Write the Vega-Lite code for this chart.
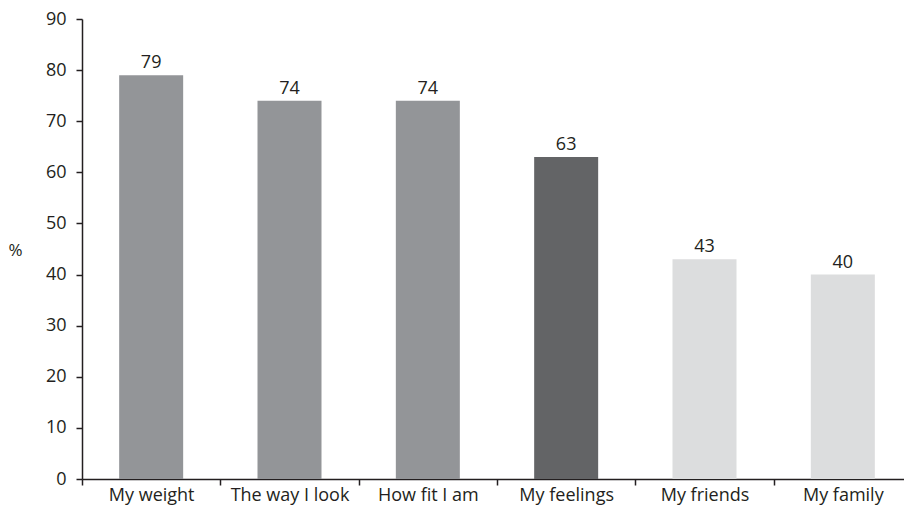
{
  "$schema": "https://vega.github.io/schema/vega-lite/v6.json",
  "width": 822,
  "height": 460,
  "autosize": {"type": "none"},
  "padding": {"left": 82, "top": 19, "right": 0, "bottom": 29},
  "background": "white",
  "config": {
    "view": {"stroke": null},
    "font": "Open Sans",
    "axis": {
      "domainColor": "#231f20",
      "domainWidth": 1.5,
      "tickColor": "#231f20",
      "tickWidth": 1.5,
      "labelColor": "#231f20",
      "labelFont": "Open Sans",
      "labelFontSize": 18,
      "grid": false
    }
  },
  "data": {
    "values": [
      {"item": "My weight", "pct": 79, "shade": "a"},
      {"item": "The way I look", "pct": 74, "shade": "a"},
      {"item": "How fit I am", "pct": 74, "shade": "a"},
      {"item": "My feelings", "pct": 63, "shade": "b"},
      {"item": "My friends", "pct": 43, "shade": "c"},
      {"item": "My family", "pct": 40, "shade": "c"}
    ]
  },
  "encoding": {
    "x": {
      "field": "item",
      "type": "nominal",
      "sort": null,
      "scale": {"range": [0, 830], "paddingInner": 0, "paddingOuter": 0},
      "axis": {
        "title": null,
        "labelAngle": 0,
        "tickBand": "extent",
        "tickSize": 6,
        "labelPadding": 1
      }
    },
    "y": {
      "field": "pct",
      "type": "quantitative",
      "scale": {"domain": [0, 90], "nice": false},
      "axis": {
        "values": [0, 10, 20, 30, 40, 50, 60, 70, 80, 90],
        "title": "%",
        "titleAngle": 0,
        "titleFont": "Open Sans",
        "titleFontWeight": "normal",
        "titleFontSize": 17,
        "titleColor": "#231f20",
        "titleX": -67,
        "titleY": 231,
        "titleAlign": "center",
        "titleBaseline": "middle",
        "tickSize": 6,
        "labelPadding": 10
      }
    }
  },
  "layer": [
    {
      "mark": {"type": "bar", "width": 64},
      "encoding": {
        "color": {
          "field": "shade",
          "type": "nominal",
          "scale": {"domain": ["a", "b", "c"], "range": ["#939598", "#636466", "#dcddde"]},
          "legend": null
        }
      }
    },
    {
      "mark": {"type": "text", "baseline": "alphabetic", "dy": -7, "fontSize": 18, "color": "#231f20"},
      "encoding": {"text": {"field": "pct", "type": "quantitative"}}
    }
  ]
}
